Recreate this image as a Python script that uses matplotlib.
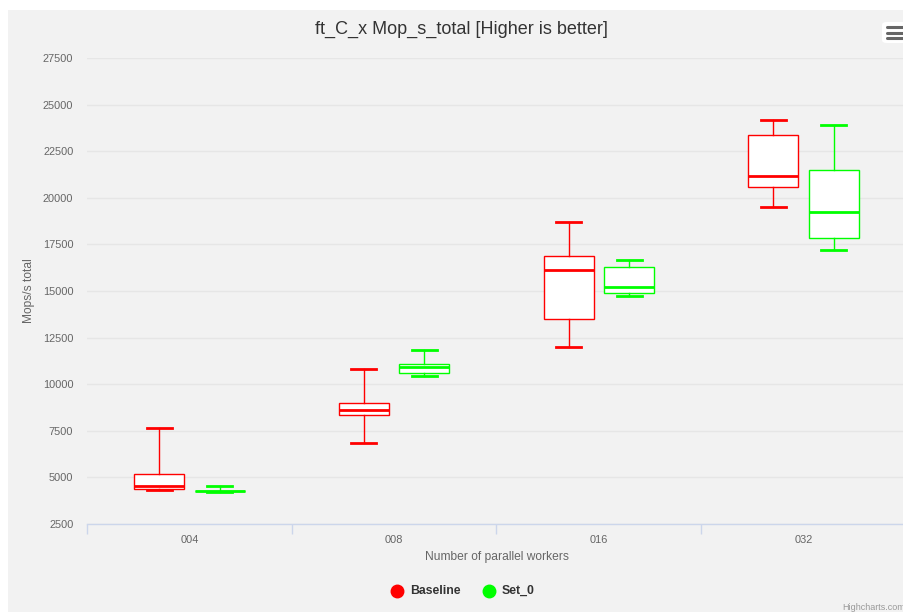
import matplotlib
matplotlib.use("Agg")
import matplotlib.pyplot as plt
from matplotlib.patches import Rectangle, FancyBboxPatch

categories = ["004", "008", "016", "032"]
series_names = ["Baseline", "Set_0"]
series_colors = ["#ff0000", "#00ff00"]

# low, q1, median, q3, high per category
baseline_low = [4340, 6846, 11996, 19524]
baseline_q1 = [4378, 8330, 13498, 20580]
baseline_med = [4555, 8633, 16110, 21154]
baseline_q3 = [5182, 8975, 16878, 23354]
baseline_high = [7666, 10800, 18702, 24175]

set0_low = [4230, 10424, 14732, 17200]
set0_q1 = [4250, 10601, 14893, 17855]
set0_med = [4270, 10905, 15234, 19256]
set0_q3 = [4295, 11084, 16288, 21492]
set0_high = [4522, 11835, 16648, 23906]

y_ticks = [2500, 5000, 7500, 10000, 12500, 15000, 17500, 20000, 22500, 25000, 27500]

W, H = 904, 612
fig = plt.figure(figsize=(W / 100, H / 100), dpi=100)
fig.patch.set_facecolor("white")
# gray chart background (white margin at top/left)
fig.patches.append(Rectangle((8 / W, 0), 1, 1 - 10 / H, transform=fig.transFigure,
                             facecolor="#f2f2f2", edgecolor="none", zorder=-10))

left, right, top, bottom = 87, 906, 58, 524
ax = fig.add_axes([left / W, 1 - bottom / H, (right - left) / W, (bottom - top) / H])
ax.set_facecolor("none")

font = "Liberation Sans"

def px(v):
    return v * 0.72

series = [
    (baseline_low, baseline_q1, baseline_med, baseline_q3, baseline_high),
    (set0_low, set0_q1, set0_med, set0_q3, set0_high),
]
offsets = [-0.148, 0.148]
box_w = 50 / 205
cap_w = 25 / 205

for s, (lo, q1, med, q3, hi) in enumerate(series):
    stats = []
    for i in range(len(categories)):
        stats.append(dict(whislo=lo[i], q1=q1[i], med=med[i], q3=q3[i], whishi=hi[i], fliers=[]))
    col = series_colors[s]
    ax.bxp(stats, positions=[i + offsets[s] for i in range(len(categories))],
           widths=box_w, capwidths=cap_w, patch_artist=True, showfliers=False,
           boxprops=dict(facecolor="white", edgecolor=col, linewidth=1),
           medianprops=dict(color=col, linewidth=2),
           whiskerprops=dict(color=col, linewidth=1),
           capprops=dict(color=col, linewidth=2), manage_ticks=False, zorder=3)

ax.set_xlim(-0.5, 3.5)
ax.set_ylim(2500, 27500)
ax.set_yticks(y_ticks)
ax.set_yticklabels([str(v) for v in y_ticks], fontsize=px(11), color="#666666", family=font)
ax.yaxis.grid(True, color="#e6e6e6", linewidth=1, zorder=0)
ax.set_axisbelow(True)
ax.tick_params(axis="y", length=0, pad=9.8)

ax.set_xticks(range(len(categories)))
ax.set_xticklabels(categories, fontsize=px(11), color="#666666", family=font)
ax.set_xticks([0.5, 1.5, 2.5, -0.5], minor=True)
ax.tick_params(axis="x", which="major", length=0, pad=7.8)
ax.tick_params(axis="x", which="minor", length=10 * 0.72, color="#ccd6eb", width=1)

for sp in ["top", "right", "left"]:
    ax.spines[sp].set_visible(False)
ax.spines["bottom"].set_color("#ccd6eb")
ax.spines["bottom"].set_linewidth(1)

ax.set_xlabel("Number of parallel workers", fontsize=px(12), color="#666666", family=font, labelpad=4.5)
fig.text(29 / W, 1 - 291 / H, "Mops/s total", rotation=90, ha="center", va="center",
         fontsize=px(12), color="#666666", family=font)

fig.text(461 / W, 1 - 29 / H, "ft_C_x Mop_s_total [Higher is better]", ha="center", va="center",
         fontsize=px(18), color="#333333", family=font)

# legend
leg_y = 1 - 590.5 / H
for x_dot, x_txt, name, col in [(397, 410, series_names[0], series_colors[0]),
                                 (489, 502, series_names[1], series_colors[1])]:
    fig.lines.append(plt.Line2D([x_dot / W], [leg_y], marker="o", markersize=9,
                                color=col, transform=fig.transFigure, linestyle="none"))
    fig.text(x_txt / W, leg_y, name, ha="left", va="center", fontsize=px(12.3),
             color="#333333", fontweight="bold", family=font)

# context menu button
fig.patches.append(FancyBboxPatch((882 / W, 1 - 43 / H), 26 / W, 21 / H,
                                  boxstyle="round,pad=0,rounding_size=0.005",
                                  transform=fig.transFigure, facecolor="white", edgecolor="none"))
for yy in [27, 32.5, 38]:
    fig.lines.append(plt.Line2D([887 / W, 903 / W], [1 - yy / H, 1 - yy / H], color="#666666",
                                linewidth=2.2, transform=fig.transFigure, solid_capstyle="round"))

fig.text(905 / W, 1 - 607 / H, "Highcharts.com", ha="right", va="center", fontsize=px(9),
         color="#999999", family=font)

fig.savefig("out.png", dpi=100, facecolor=fig.get_facecolor())
